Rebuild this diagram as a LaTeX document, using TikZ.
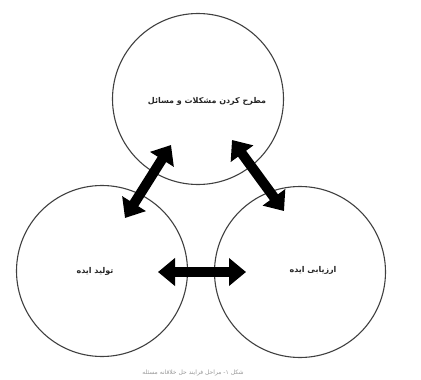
\documentclass[tikz,border=0pt]{standalone}
\usepackage{fontspec}
\newfontfamily\arabicfont[Script=Arabic]{DejaVu Sans}
\TeXXeTstate=1
\usetikzlibrary{arrows.meta}
\begin{document}
\begin{tikzpicture}[x=1pt,y=-1pt,
  ring/.style={circle,draw=black!75,line width=1.1pt,minimum size=171pt,inner sep=0pt},
  lbl/.style={font=\arabicfont\bfseries\fontsize{8}{9}\selectfont,text=black!85},
  bigarrow/.style={line width=10pt,draw=black,
    {Triangle[length=17pt,width=27pt]}-{Triangle[length=17pt,width=27pt]}}]
\useasboundingbox[fill=white] (0,0) rectangle (421,380);
\node[ring] (T) at (198,99) {};
\node[ring] (L) at (102,271) {};
\node[ring] (R) at (300,272) {};
\node[lbl] (tl) at (207,101) {\beginR مطرح کردن مشکلات و مسائل\endR};
\node[lbl] (ll) at (95,271) {\beginR تولید ایده\endR};
\node[lbl] (rl) at (313,270) {\beginR ارزیابی ایده\endR};
\coordinate (a1) at (125,218);
\coordinate (a2) at (171,145);
\coordinate (b1) at (232,140);
\coordinate (b2) at (284,211);
\coordinate (c1) at (158,272);
\coordinate (c2) at (246,272);
\draw[bigarrow] (a1) -- (a2);
\draw[bigarrow] (b1) -- (b2);
\draw[bigarrow] (c1) -- (c2);
\node[font=\arabicfont\fontsize{6}{7}\selectfont,text=black!40,inner sep=1pt] (cap) at (193,373) {\beginR شکل ۱- مراحل فرایند حل خلاقانه مسئله\endR};
\end{tikzpicture}
\end{document}
